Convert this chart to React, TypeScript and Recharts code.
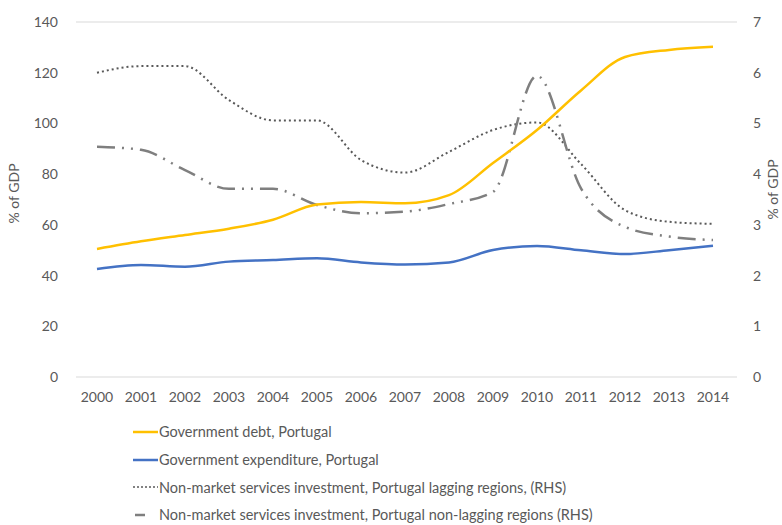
import { LineChart, Line, XAxis, YAxis, CartesianGrid } from "recharts";

const years = ["2000", "2001", "2002", "2003", "2004", "2005", "2006", "2007", "2008", "2009", "2010", "2011", "2012", "2013", "2014"];
const govDebt = [50.5, 53.5, 56, 58.5, 62, 68, 69, 68.5, 71.7, 84.4, 97.4, 113, 126.2, 129, 130.2];
const govExpenditure = [42.6, 44.2, 43.5, 45.5, 46.1, 46.8, 45.2, 44.4, 45.2, 50.1, 51.7, 50, 48.5, 50, 51.8];
const lagging = [6.0, 6.13, 6.13, 5.46, 5.06, 5.06, 4.28, 4.03, 4.44, 4.87, 5.02, 4.2, 3.29, 3.06, 3.02];
const nonLagging = [4.54, 4.48, 4.08, 3.71, 3.71, 3.39, 3.23, 3.26, 3.41, 3.65, 5.94, 3.72, 2.96, 2.77, 2.7];

const leftTicks = [0, 20, 40, 60, 80, 100, 120, 140];
const rightTicks = [0, 1, 2, 3, 4, 5, 6, 7];

const data = years.map((year, i) => ({
  year,
  debt: govDebt[i],
  expenditure: govExpenditure[i],
  lagging: lagging[i],
  nonLagging: nonLagging[i],
}));

const FONT = "Lato, 'Noto Sans', sans-serif";
const TEXT = "#595959";

const legendItems = [
  { label: "Government debt, Portugal", color: "#FFC000", dash: undefined, width: 2.5, x1: 0, x2: 25 },
  { label: "Government expenditure, Portugal", color: "#4472C4", dash: undefined, width: 2.5, x1: 0, x2: 25 },
  { label: "Non-market services investment, Portugal lagging regions, (RHS)", color: "#595959", dash: "2 2", width: 1.5, x1: 0, x2: 25 },
  { label: "Non-market services investment, Portugal non-lagging regions (RHS)", color: "#7F7F7F", dash: undefined, width: 2.5, x1: 2, x2: 12 },
];

const App = () => {
  return (
    <div style={{ position: "fixed", left: 0, top: 0, width: 782, height: 525, background: "#fff", fontFamily: FONT }}>
      <LineChart width={782} height={525} data={data} margin={{ top: 22, right: 0, bottom: 113, left: 0 }}>
        <CartesianGrid vertical={false} stroke="#D9D9D9" strokeWidth={1} />
        <XAxis
          dataKey="year"
          axisLine={false}
          tickLine={false}
          tickSize={0}
          tickMargin={15}
          height={35}
          padding={{ left: 21, right: 24 }}
          interval={0}
          tick={{ fill: TEXT, fontSize: 14, fontFamily: FONT }}
        />
        <YAxis
          yAxisId="left"
          domain={[0, 140]}
          ticks={leftTicks}
          axisLine={false}
          tickLine={false}
          tickSize={0}
          tickMargin={18}
          width={76}
          tick={{ fill: TEXT, fontSize: 14, fontFamily: FONT }}
          label={{ value: "% of GDP", angle: -90, position: "insideLeft", offset: 14, dy: -6, fill: TEXT, fontSize: 14, fontFamily: FONT, style: { textAnchor: "middle" } }}
        />
        <YAxis
          yAxisId="right"
          orientation="right"
          domain={[0, 7]}
          ticks={rightTicks}
          axisLine={false}
          tickLine={false}
          tickSize={0}
          tickMargin={16}
          width={45}
          tick={{ fill: TEXT, fontSize: 14, fontFamily: FONT }}
          label={{ value: "% of GDP", angle: -90, position: "insideRight", offset: 9, dy: -10, fill: TEXT, fontSize: 14, fontFamily: FONT, style: { textAnchor: "middle" } }}
        />
        <Line yAxisId="right" type="monotone" dataKey="lagging" stroke="#595959" strokeWidth={2} strokeDasharray="2 3" dot={false} isAnimationActive={false} />
        <Line yAxisId="right" type="monotone" dataKey="nonLagging" stroke="#7F7F7F" strokeWidth={2.5} strokeDasharray="18 7 2 7 2 7" dot={false} isAnimationActive={false} />
        <Line yAxisId="left" type="monotone" dataKey="expenditure" stroke="#4472C4" strokeWidth={2.5} dot={false} isAnimationActive={false} />
        <Line yAxisId="left" type="monotone" dataKey="debt" stroke="#FFC000" strokeWidth={2.5} dot={false} isAnimationActive={false} />
      </LineChart>
      <div style={{ position: "absolute", left: 133, top: 418 }}>
        {legendItems.map((item) => (
          <div key={item.label} style={{ display: "flex", alignItems: "center", height: 27.7, color: TEXT, fontSize: 14.5 }}>
            <svg width={25} height={10} style={{ marginRight: 1 }}>
              <line x1={item.x1} x2={item.x2} y1={5} y2={5} stroke={item.color} strokeWidth={item.width} strokeDasharray={item.dash} />
            </svg>
            <span>{item.label}</span>
          </div>
        ))}
      </div>
    </div>
  );
};

export default App;
